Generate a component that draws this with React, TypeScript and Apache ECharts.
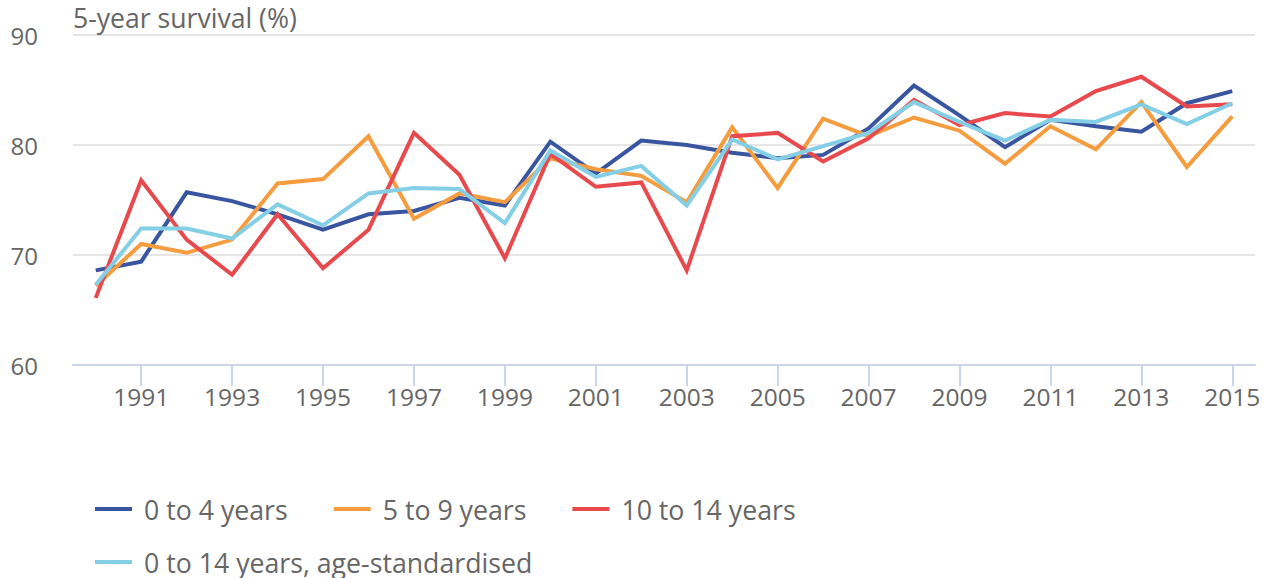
import React, { useEffect, useRef } from "react";
import * as echarts from "echarts";

const years = [
  "1990", "1991", "1992", "1993", "1994", "1995", "1996", "1997", "1998", "1999",
  "2000", "2001", "2002", "2003", "2004", "2005", "2006", "2007", "2008", "2009",
  "2010", "2011", "2012", "2013", "2014", "2015",
];

const age0to4 = [
  68.6, 69.4, 75.7, 74.9, 73.7, 72.3, 73.7, 74.0, 75.2, 74.5,
  80.3, 77.4, 80.4, 80.0, 79.3, 78.8, 79.1, 81.5, 85.4, 82.7,
  79.8, 82.3, 81.7, 81.2, 83.8, 84.9,
];
const age5to9 = [
  67.2, 71.0, 70.2, 71.4, 76.5, 76.9, 80.8, 73.3, 75.6, 74.8,
  78.8, 77.8, 77.2, 74.8, 81.6, 76.1, 82.4, 80.8, 82.5, 81.3,
  78.3, 81.7, 79.6, 83.9, 78.0, 82.6,
];
const age10to14 = [
  66.1, 76.8, 71.4, 68.2, 73.7, 68.8, 72.3, 81.1, 77.3, 69.7,
  79.2, 76.2, 76.6, 68.6, 80.8, 81.1, 78.5, 80.6, 84.1, 81.8,
  82.9, 82.6, 84.9, 86.2, 83.5, 83.7,
];
const ageStd = [
  67.3, 72.4, 72.4, 71.5, 74.6, 72.7, 75.6, 76.1, 76.0, 72.9,
  79.5, 77.1, 78.1, 74.5, 80.5, 78.7, 79.9, 81.1, 83.9, 82.1,
  80.4, 82.3, 82.1, 83.7, 81.9, 83.8,
];

const seriesNames = [
  "0 to 4 years",
  "5 to 9 years",
  "10 to 14 years",
  "0 to 14 years, age-standardised",
];
const seriesColors = ["#3a55a0", "#f59d3e", "#e8494d", "#84cfe6"];
const seriesData = [age0to4, age5to9, age10to14, ageStd];

const FONT = "'Open Sans', 'Noto Sans', sans-serif";
const TEXT = "#666666";
const oddYear = (index: number) => index % 2 === 1;

export default function App() {
  const ref = useRef<HTMLDivElement>(null);

  useEffect(() => {
    if (!ref.current) return;
    const chart = echarts.init(ref.current, null, { renderer: "svg" });
    const legendText = {
      fontSize: 26.7,
      color: TEXT,
      fontFamily: FONT,
      lineHeight: 28,
      padding: [0, 0, 0, 7],
    };
    chart.setOption({
      animation: false,
      backgroundColor: "#ffffff",
      textStyle: { fontFamily: FONT },
      title: {
        text: "5-year survival (%)",
        left: 73,
        top: 3,
        padding: 0,
        textStyle: {
          fontSize: 26.6,
          fontWeight: "normal",
          color: TEXT,
          fontFamily: FONT,
          lineHeight: 30,
        },
      },
      legend: [
        {
          data: seriesNames.slice(0, 3),
          left: 95,
          top: 495,
          padding: 0,
          icon: "rect",
          itemWidth: 37,
          itemHeight: 4,
          itemGap: 46,
          textStyle: legendText,
          selectedMode: false,
        },
        {
          data: seriesNames.slice(3),
          left: 95,
          top: 548,
          padding: 0,
          icon: "rect",
          itemWidth: 37,
          itemHeight: 4,
          itemGap: 46,
          textStyle: legendText,
          selectedMode: false,
        },
      ],
      grid: { left: 73, right: 13, top: 35, bottom: 213, containLabel: false },
      xAxis: {
        type: "category",
        data: years,
        boundaryGap: true,
        axisLine: { show: true, lineStyle: { color: "#ccd6eb", width: 2 } },
        axisTick: {
          show: true,
          alignWithLabel: true,
          interval: oddYear,
          length: 21,
          lineStyle: { color: "#ccd6eb", width: 2 },
        },
        axisLabel: {
          interval: oddYear,
          margin: 19,
          fontSize: 24.5,
          color: TEXT,
          fontFamily: FONT,
        },
        splitLine: { show: false },
      },
      yAxis: {
        type: "value",
        min: 60,
        max: 90,
        interval: 10,
        axisLine: { show: false },
        axisTick: { show: false },
        axisLabel: {
          margin: 35,
          fontSize: 24,
          color: TEXT,
          fontFamily: FONT,
        },
        splitLine: { show: true, lineStyle: { color: "#e6e6e6", width: 2 } },
      },
      series: seriesNames.map((name, i) => ({
        name,
        type: "line",
        data: seriesData[i],
        showSymbol: false,
        symbol: "none",
        color: seriesColors[i],
        lineStyle: { width: 4, color: seriesColors[i], join: "miter", cap: "butt" },
        emphasis: { disabled: true },
      })),
    });
    return () => chart.dispose();
  }, []);

  return (
    <div
      ref={ref}
      style={{ position: "absolute", left: 0, top: 0, width: 1268, height: 578 }}
    />
  );
}
